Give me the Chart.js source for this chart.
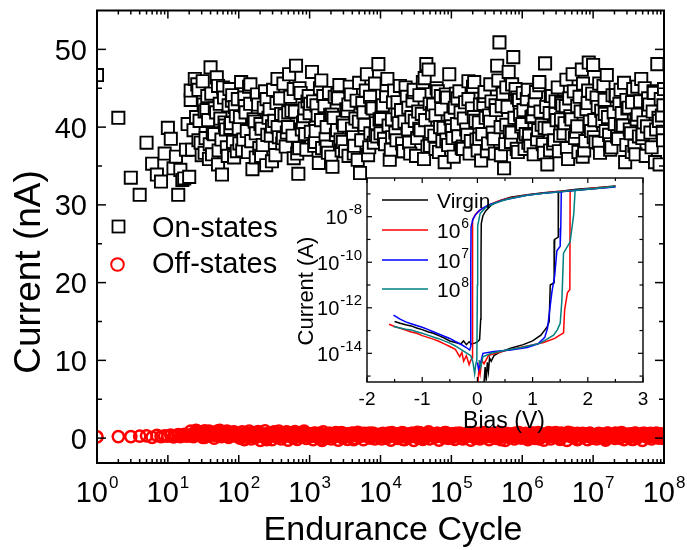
<!DOCTYPE html>
<html><head><meta charset="utf-8">
<script src="https://cdn.jsdelivr.net/npm/chart.js@4.4.1/dist/chart.umd.min.js"></script>
<style>html,body{margin:0;padding:0;background:#fff;}#wrap{position:relative;width:687px;height:550px;}canvas{position:absolute;left:0;top:0;}</style>
</head><body><div id="wrap"><canvas id="main" width="687" height="550"></canvas><canvas id="inset" width="687" height="550"></canvas></div>
<script>
// ---------- main chart data (first pass of read-off points) ----------
const cycles = [1,2,3,4,5,6,7,8,9,10,11,12,13,14,15,16,17,18,19,20,
22,24,26,28,30,32,34,36,38,40,43,46,49,52,55,58,62,66,70,74,78,83,88,94,
100,108,116,125,135,145,156,168,181,195,210,226,244,263,283,305,329,354,382,411,443,477,514,554,597,643,693,747,805,867,934,
1000,1080,1160,1250,1350,1450,1560,1680,1810,1950,2100,2260,2440,2630,2830,3050,3290,3540,3820,4110,4430,4770,5140,5540,5970,6430,6930,7470,8050,8670,9340,
10000,10800,11600,12500,13500,14500,15600,16800,18100,19500,21000,22600,24400,26300,28300,30500,32900,35400,38200,41100,44300,47700,51400,55400,59700,64300,69300,74700,80500,86700,93400,
1.0e5,1.08e5,1.16e5,1.25e5,1.35e5,1.45e5,1.56e5,1.68e5,1.81e5,1.95e5,2.1e5,2.26e5,2.44e5,2.63e5,2.83e5,3.05e5,3.29e5,3.54e5,3.82e5,4.11e5,4.43e5,4.77e5,5.14e5,5.54e5,5.97e5,6.43e5,6.93e5,7.47e5,8.05e5,8.67e5,9.34e5,
1.0e6,1.08e6,1.16e6,1.25e6,1.35e6,1.45e6,1.56e6,1.68e6,1.81e6,1.95e6,2.1e6,2.26e6,2.44e6,2.63e6,2.83e6,3.05e6,3.29e6,3.54e6,3.82e6,4.11e6,4.43e6,4.77e6,5.14e6,5.54e6,5.97e6,6.43e6,6.93e6,7.47e6,8.05e6,8.67e6,9.34e6,
1.0e7,1.08e7,1.16e7,1.25e7,1.35e7,1.45e7,1.56e7,1.68e7,1.81e7,1.95e7,2.1e7,2.26e7,2.44e7,2.63e7,2.83e7,3.05e7,3.29e7,3.54e7,3.82e7,4.11e7,4.43e7,4.77e7,5.14e7,5.54e7,5.97e7,6.43e7,6.93e7,7.47e7,8.05e7,8.67e7,9.34e7,
9.6e7,9.8e7,1e8];

const onCurrent = [46.7,41.2,33.5,31.3,38.0,35.3,33.9,33.0,36.6,39.9,38.5,34.7,36.2,31.3,34.5,33.2,33.4,37.1,40.4,33.6,
37.1,46.2,45.5,40.8,36.4,42.9,38.6,44.0,35.9,47.7,39.2,42.4,46.4,37.0,41.1,33.9,43.8,39.7,36.3,44.9,40.5,38.1,42.6,36.9,
39.8,45.8,38.4,41.9,36.8,43.0,34.6,40.7,44.2,37.3,39.8,42.5,35.1,41.2,38.9,44.8,36.4,40.0,43.7,37.9,41.5,39.3,46.8,42.1,36.0,47.9,34.0,44.4,40.6,39.1,43.3,
41.8,47.1,37.6,42.8,35.4,40.9,44.0,38.5,36.7,41.6,34.9,43.9,39.6,45.4,37.0,40.2,42.3,36.3,44.2,38.7,41.1,35.8,34.1,43.1,39.9,46.8,37.4,42.6,38.0,40.5,48.1,
39.2,42.8,37.8,46.2,35.8,41.0,44.7,38.3,40.5,42.2,36.9,45.1,39.7,36.6,43.4,40.8,38.6,44.1,41.7,35.9,48.1,47.4,39.4,42.9,37.2,44.6,40.0,38.2,35.5,43.8,46.8,
40.1,36.2,44.3,38.8,41.9,37.5,43.2,39.0,36.6,42.4,45.8,38.4,40.6,35.7,43.0,41.2,37.9,45.5,39.3,36.6,47.9,50.9,42.7,34.7,40.3,47.1,38.1,49.0,44.9,36.8,41.6,
40.4,37.2,43.6,38.9,41.3,36.5,44.5,39.6,42.0,37.8,48.2,35.2,41.8,44.0,38.3,40.9,36.9,43.1,39.2,42.7,35.9,41.4,46.8,38.6,40.1,43.9,47.4,37.0,42.3,48.3,39.5,
48.0,38.1,42.6,36.7,40.8,43.5,46.7,39.0,37.4,41.9,44.1,38.5,44.8,40.2,35.5,42.4,39.7,43.2,37.6,41.0,38.8,46.2,40.6,36.3,43.7,39.3,42.0,35.5,48.1,35.2,41.5,
39.4,42.8,44.9];

const offCurrent = [0.15,0.2,0.2,0.25,0.3,0.1,0.35,0.2,0.3,0.25,0.4,0.15,0.3,0.45,0.2,0.35,0.5,0.25,0.4,0.3,
0.5,0.7,0.4,0.85,0.6,0.3,0.75,0.5,0.9,0.45,0.65,0.35,0.8,0.55,0.9,0.4,0.7,0.6,0.85,0.3,0.5,0.75,0.45,0.6,
0.4,0.25,0.55,0.3,0.5,0.2,0.45,0.35,0.6,0.25,0.4,0.3,0.55,0.2,0.45,0.7,0.35,0.5,0.3,0.65,0.4,0.8,0.25,0.5,0.35,0.6,0.3,0.45,0.7,0.4,0.55,
0.5,0.3,0.65,0.35,0.55,0.25,0.8,0.4,0.3,0.6,0.45,0.2,0.5,0.35,0.7,0.3,0.55,0.4,0.25,0.6,0.35,0.75,0.45,0.3,0.5,0.4,0.65,0.25,0.55,0.35,0.5,
0.35,0.6,0.3,0.5,0.25,0.7,0.4,0.55,0.3,0.45,0.65,0.2,0.5,0.35,0.6,0.3,0.75,0.4,0.5,0.25,0.55,0.8,0.35,0.45,0.3,0.6,0.4,0.5,0.7,0.3,0.55,
0.45,0.3,0.6,0.35,0.5,0.25,0.55,0.4,0.7,0.3,0.45,0.6,0.2,0.5,0.35,0.65,0.4,0.3,0.55,0.25,0.5,0.75,0.35,0.45,0.6,0.3,0.5,0.4,0.65,0.35,0.45,
0.3,0.55,0.4,0.25,0.6,0.35,0.5,0.7,0.3,0.45,0.4,0.55,0.25,0.6,0.35,0.5,0.3,0.65,0.4,0.45,0.75,0.3,0.5,0.35,0.6,0.4,0.25,0.55,0.45,0.35,0.5,
0.4,0.3,0.55,0.35,0.5,0.25,0.6,0.4,0.45,0.3,0.55,0.35,0.65,0.4,0.3,0.5,0.45,0.25,0.6,0.35,0.5,0.4,0.55,0.3,0.45,0.6,0.35,0.5,0.4,0.3,0.45,
0.4,0.35,0.3];

// ---------- second pass of read-off points ----------
const cycles2 = [21,23,25,27,29,31,33,35,37,39,41,45,48,51,54,57,60,64,68,72,76,81,86,91,97,
104,112,120,130,140,150,162,174,188,202,218,235,253,273,294,317,341,368,396,427,460,495,534,575,620,668,720,776,836,900,970,
1040,1120,1200,1300,1400,1500,1620,1740,1880,2020,2180,2350,2530,2730,2940,3170,3410,3680,3960,4270,4600,4950,5340,5750,6200,6680,7200,7760,8360,9000,9700,
10400,11200,12000,13000,14000,15000,16200,17400,18800,20200,21800,23500,25300,27300,29400,31700,34100,36800,39600,42700,46000,49500,53400,57500,62000,66800,72000,77600,83600,90000,97000,
1.04e5,1.12e5,1.2e5,1.3e5,1.4e5,1.5e5,1.62e5,1.74e5,1.88e5,2.02e5,2.18e5,2.35e5,2.53e5,2.73e5,2.94e5,3.17e5,3.41e5,3.68e5,3.96e5,4.27e5,4.6e5,4.95e5,5.34e5,5.75e5,6.2e5,6.68e5,7.2e5,7.76e5,8.36e5,9.0e5,9.7e5,
1.04e6,1.12e6,1.2e6,1.3e6,1.4e6,1.5e6,1.62e6,1.74e6,1.88e6,2.02e6,2.18e6,2.35e6,2.53e6,2.73e6,2.94e6,3.17e6,3.41e6,3.68e6,3.96e6,4.27e6,4.6e6,4.95e6,5.34e6,5.75e6,6.2e6,6.68e6,7.2e6,7.76e6,8.36e6,9.0e6,9.7e6,
1.04e7,1.12e7,1.2e7,1.3e7,1.4e7,1.5e7,1.62e7,1.74e7,1.88e7,2.02e7,2.18e7,2.35e7,2.53e7,2.73e7,2.94e7,3.17e7,3.41e7,3.68e7,3.96e7,4.27e7,4.6e7,4.95e7,5.34e7,5.75e7,6.2e7,6.68e7,7.2e7,7.76e7,8.36e7,9.0e7,9.7e7];

const onCurrent2 = [43.5,39.6,41.3,44.8,38.0,45.9,36.7,42.2,40.9,37.8,44.3,39.1,41.9,35.2,43.0,38.4,45.1,40.2,37.4,42.8,39.9,44.1,36.1,41.4,43.6,
41.3,37.0,43.8,39.5,45.2,38.2,41.0,36.1,42.9,40.4,37.7,44.6,39.0,42.3,35.6,40.8,43.1,38.7,41.7,45.6,37.5,40.0,43.9,38.9,42.0,36.6,45.0,39.7,41.4,37.1,44.0,
39.4,43.3,38.1,41.5,45.0,37.3,42.7,40.0,44.4,36.2,41.2,39.0,43.7,38.4,40.6,36.9,42.1,45.2,39.8,37.6,43.4,40.7,38.3,41.9,44.7,36.4,39.2,42.4,45.6,38.8,41.0,
42.6,38.5,44.0,40.2,37.1,43.2,39.3,41.6,45.3,37.9,40.7,43.9,38.0,41.3,44.5,36.3,42.0,39.6,45.8,40.9,37.5,43.0,41.8,38.9,45.0,36.8,42.3,39.9,44.2,37.7,41.1,
38.6,42.5,40.4,44.6,37.3,41.1,39.7,43.6,38.2,45.2,40.8,37.0,42.9,39.1,44.0,36.9,41.5,43.3,38.5,42.2,46.0,40.0,44.3,37.8,42.6,39.4,45.5,41.2,37.2,43.5,40.1,
42.2,39.1,44.8,37.6,41.4,43.4,38.4,45.4,40.3,36.7,42.6,39.8,44.0,37.9,41.7,45.1,38.9,42.8,40.5,37.3,43.7,41.0,44.6,39.4,36.8,42.0,45.6,38.2,43.1,40.7,44.3,
40.9,43.8,38.0,42.1,45.3,39.5,41.3,37.1,44.1,40.4,38.8,43.0,41.8,45.7,37.7,42.5,39.2,44.9,36.5,41.6,43.3,38.6,45.0,40.1,42.9,37.4,44.4,39.7,41.2,43.6,38.3];

const offCurrent2 = [0.9,0.2,1.0,0.4,0.7,0.1,0.95,0.5,0.3,0.85,0.6,0.0,0.8,0.45,1.0,0.2,0.7,0.55,0.9,0.1,0.65,0.35,0.8,0.25,0.6,
0.0,0.8,-0.2,0.6,0.9,-0.1,0.7,0.1,0.85,-0.3,0.5,0.95,0.0,0.65,-0.2,0.8,0.2,0.9,-0.1,0.55,0.75,-0.25,0.6,0.05,0.85,-0.15,0.7,0.15,0.9,-0.05,0.5,
0.55,-0.2,0.4,0.1,0.65,-0.3,0.5,0.0,0.6,-0.1,0.35,0.7,-0.25,0.45,0.1,0.55,-0.15,0.4,0.65,-0.05,0.5,0.2,0.6,-0.2,0.3,0.5,0.0,0.65,-0.1,0.4,0.15,
-0.1,0.5,0.05,0.65,-0.25,0.4,0.55,-0.05,0.35,0.7,-0.2,0.45,0.1,0.6,-0.3,0.5,0.0,0.65,-0.15,0.3,0.55,-0.1,0.4,0.2,0.6,-0.25,0.5,0.05,0.7,-0.05,0.4,
0.55,-0.15,0.4,0.65,-0.05,0.3,0.2,0.6,-0.25,0.45,0.0,0.55,-0.1,0.7,0.1,0.35,-0.2,0.5,0.6,-0.05,0.4,0.15,0.65,-0.3,0.5,0.05,0.55,-0.1,0.3,0.7,0.0,
0.1,0.6,-0.2,0.4,0.65,-0.05,0.5,0.0,0.55,-0.25,0.35,0.7,-0.1,0.45,0.2,0.6,-0.15,0.4,0.55,-0.3,0.3,0.65,0.05,0.5,-0.1,0.55,0.15,0.4,-0.2,0.65,0.0,
0.4,-0.1,0.6,0.05,0.5,-0.25,0.65,0.2,0.35,-0.05,0.55,0.0,0.7,-0.2,0.45,0.1,0.55,-0.15,0.65,0.05,0.4,-0.3,0.6,0.15,0.5,-0.1,0.3,0.65,0.0,0.55,-0.05];

// ---------- third pass of read-off points ----------
const cycles3 = [21,27,33,42,51,63,80,
102,122,146,174,207,247,295,352,420,500,597,712,850,
1020,1220,1460,1740,2070,2470,2950,3520,4200,5000,5970,7120,8500,
10200,12200,14600,17400,20700,24700,29500,35200,42000,50000,59700,71200,85000,
1.02e5,1.22e5,1.46e5,1.74e5,2.07e5,2.47e5,2.95e5,3.52e5,4.2e5,5.0e5,5.97e5,7.12e5,8.5e5,
1.02e6,1.22e6,1.46e6,1.74e6,2.07e6,2.47e6,2.95e6,3.52e6,4.2e6,5.0e6,5.97e6,7.12e6,8.5e6,
1.02e7,1.22e7,1.46e7,1.74e7,2.07e7,2.47e7,2.95e7,3.52e7,4.2e7,5.0e7,5.97e7,7.12e7,8.5e7];
const onCurrent3 = [44.7,38.3,42.0,36.5,45.3,40.6,43.4,
37.9,42.7,45.5,39.2,36.3,43.6,40.1,46.2,38.6,41.9,44.9,37.3,42.4,
43.0,39.5,46.0,37.5,41.6,44.2,38.1,42.9,36.6,45.7,40.3,43.9,39.0,
41.1,45.4,38.7,43.2,36.9,42.5,44.8,39.8,46.3,37.6,41.5,44.0,38.4,
39.6,43.7,37.2,45.9,41.3,38.5,44.5,40.7,42.8,36.4,45.1,39.3,43.8,
44.4,38.0,42.3,45.8,39.9,37.0,43.3,41.0,46.1,38.9,42.7,36.2,44.7,
38.7,45.6,41.7,37.8,44.0,40.2,43.5,36.8,45.2,39.1,42.2,44.6,40.8];
const offCurrent3 = [0.3,0.8,0.1,0.6,0.95,0.4,0.7,
0.3,-0.1,0.6,0.2,0.5,-0.2,0.7,0.1,0.4,0.65,0.0,0.5,0.25,
0.2,0.6,-0.1,0.45,0.3,0.65,0.0,0.5,-0.2,0.4,0.6,0.1,0.35,
0.45,0.0,0.6,0.25,-0.15,0.5,0.3,0.7,-0.05,0.4,0.15,0.55,0.2,
0.1,0.5,-0.1,0.6,0.3,0.0,0.65,0.2,0.45,-0.2,0.55,0.35,0.15,
0.35,0.05,0.6,-0.1,0.45,0.25,0.7,0.0,0.5,0.15,-0.2,0.6,0.3,
0.2,0.55,-0.05,0.4,0.65,0.1,0.5,-0.15,0.3,0.6,0.05,0.45,0.25];

const yTickValues = [0,10,20,30,40,50];
const xTickExponents = [0,1,2,3,4,5,6,7,8];
const legendLabels = ['On-states','Off-states'];

// ---------- inset data (I-V curves) ----------
const insetLabels = ['Virgin','6','7','8']; // "Virgin", 10^6, 10^7, 10^8
const virginV = [-1.5,-1.4,-1.3,-1.2,-1.1,-1.0,-0.9,-0.8,-0.7,-0.6,-0.5,-0.4,-0.3,-0.25,-0.2,-0.15,-0.1,-0.05,0.0,0.04,0.06,0.065,0.07,0.1,0.15,0.25,0.4,0.6,0.9,1.2,1.5,1.8,2.1,2.5,2.1,1.8,1.47,1.465,1.4,1.39,1.32,1.3,1.26,1.15,1.0,0.83,0.6,0.4,0.3,0.25,0.22,0.2,0.18,0.16,0.14,0.12];
const virginI = [2.5e-13,2.1e-13,1.8e-13,1.6e-13,1.3e-13,1.1e-13,8.9e-14,7.6e-14,6.0e-14,4.7e-14,3.5e-14,3.0e-14,2.6e-14,3.5e-14,2.4e-14,3.2e-14,2.5e-14,2.8e-14,3.2e-14,4.0e-14,3.2e-13,1e-10,5e-9,1.1e-8,1.8e-8,3.2e-8,5e-8,7.1e-8,9.3e-8,1.12e-7,1.3e-7,1.6e-7,1.8e-7,2.2e-7,1.78e-7,1.5e-7,1.26e-7,1.26e-9,1e-9,1.26e-11,1e-11,2.5e-13,1.4e-13,6.3e-14,3.5e-14,2.4e-14,1.66e-14,1.1e-14,7.9e-15,4.5e-15,6.3e-15,1.6e-15,4e-15,6.3e-16,2.5e-15,5e-16];
const c6V = [-1.6,-1.5,-1.4,-1.3,-1.2,-1.1,-1.0,-0.9,-0.8,-0.7,-0.6,-0.5,-0.4,-0.32,-0.28,-0.25,-0.2,-0.15,-0.12,-0.09,-0.09,-0.085,-0.05,0.0,0.1,0.2,0.35,0.55,0.9,1.2,1.5,1.8,2.1,2.5,2.1,1.68,1.675,1.63,1.58,1.56,1.4,1.2,0.95,0.7,0.5,0.3,0.2,0.12,0.08,0.05,0.03,0.01];
const c6I = [1.9e-13,1.5e-13,1.26e-13,1.05e-13,8.7e-14,7.6e-14,6e-14,5e-14,4.2e-14,3.4e-14,2.6e-14,2e-14,1.5e-14,7.1e-15,1.1e-14,4.5e-15,7.9e-15,3.2e-15,5e-15,6.3e-15,1e-12,7.1e-9,1.1e-8,1.6e-8,2.4e-8,3.2e-8,4.5e-8,6.3e-8,8.9e-8,1.1e-7,1.3e-7,1.5e-7,1.8e-7,2.1e-7,1.7e-7,1.4e-7,6.3e-12,4.5e-12,7.9e-13,7.9e-14,4.5e-14,3e-14,2.2e-14,1.66e-14,1.3e-14,9.5e-15,7.9e-15,3.5e-15,5e-15,1.26e-15,2.5e-15,5e-16];
const c7V = [-1.52,-1.4,-1.3,-1.2,-1.1,-1.0,-0.9,-0.8,-0.7,-0.6,-0.5,-0.4,-0.3,-0.2,-0.14,-0.12,-0.12,-0.115,-0.08,-0.03,0.05,0.2,0.5,0.9,1.2,1.52,1.8,2.1,2.5,2.1,1.52,1.51,1.5,1.44,1.4,1.35,1.32,1.27,1.22,1.1,0.9,0.6,0.3,0.1,0.06,0.02,0.0];
const c7I = [4.8e-13,3.2e-13,2.4e-13,2e-13,1.66e-13,1.4e-13,1.12e-13,8.9e-14,7.1e-14,5.6e-14,4.5e-14,3.3e-14,2.5e-14,1.8e-14,1.4e-14,2e-14,1e-10,3.6e-9,7.9e-9,1.26e-8,2e-8,3.3e-8,5.6e-8,8.7e-8,1.07e-7,1.26e-7,1.48e-7,1.7e-7,2e-7,1.7e-7,1.26e-7,3.2e-9,5e-10,3.2e-10,2.5e-11,5e-12,1.26e-12,1.26e-13,5e-14,2.6e-14,1.8e-14,1.4e-14,1.2e-14,1e-14,4e-15,2e-15,4e-15];
const c8V = [-1.52,-1.4,-1.3,-1.2,-1.1,-1.0,-0.9,-0.8,-0.7,-0.6,-0.5,-0.4,-0.3,-0.2,-0.12,-0.08,-0.05,-0.03,-0.01,0.0,0.005,0.05,0.15,0.3,0.55,0.9,1.2,1.5,1.77,2.1,2.5,2.1,1.77,1.745,1.68,1.56,1.53,1.5,1.45,1.38,1.14,0.8,0.53,0.25,0.1,0.06,0.03];
const c8I = [1.5e-13,1.3e-13,1.15e-13,1.05e-13,8.9e-14,7.6e-14,6.3e-14,5.2e-14,4.4e-14,3.5e-14,2.8e-14,2.1e-14,1.5e-14,1.05e-14,7.9e-15,4e-15,1.26e-15,3.2e-15,5e-15,1e-11,4e-9,1.4e-8,2.5e-8,3.8e-8,6e-8,8.7e-8,1.07e-7,1.26e-7,1.45e-7,1.74e-7,2.1e-7,1.7e-7,1.4e-7,1.26e-8,7.9e-10,2.5e-10,2e-12,2.1e-13,1.1e-13,6.3e-14,2.8e-14,1.8e-14,1.4e-14,1e-14,7.1e-15,2.5e-15,5e-15];
const insetXTicks = [-2,-1,0,1,2,3];
const insetYTickExp = [-14,-12,-10,-8];

// ---------- helpers ----------
const F = '"Liberation Sans", Arial, Helvetica, sans-serif';
function seg(ctx,x1,y1,x2,y2){ctx.beginPath();ctx.moveTo(x1,y1);ctx.lineTo(x2,y2);ctx.stroke();}
function powLabel(ctx, exp, x, baseline, bs, ss, rise, align){
  ctx.font = bs+'px '+F; const w1 = ctx.measureText('10').width;
  ctx.font = ss+'px '+F; const w2 = ctx.measureText(exp).width;
  const tot = w1 + 1 + w2;
  const x0 = align==='center' ? x - tot/2 : (align==='right' ? x - tot : x);
  ctx.textAlign='left'; ctx.textBaseline='alphabetic';
  ctx.font = bs+'px '+F; ctx.fillText('10', x0, baseline);
  ctx.font = ss+'px '+F; ctx.fillText(exp, x0 + w1 + 1, baseline - rise);
}

// ---------- main chart decorations ----------
const mainDecor = {
  id:'mainDecor',
  afterDraw(chart){
    const ctx = chart.ctx, a = chart.chartArea, x = chart.scales.x, y = chart.scales.y;
    ctx.save();
    ctx.strokeStyle='#000'; ctx.fillStyle='#000';
    ctx.lineWidth = 1.5;
    yTickValues.forEach(v=>{const p=y.getPixelForValue(v); seg(ctx,a.left,p,a.left+9,p); seg(ctx,a.right,p,a.right-9,p);});
    yTickValues.forEach(v=>{const vv=v+5; if(vv<55){const p=y.getPixelForValue(vv); seg(ctx,a.left,p,a.left+5,p); seg(ctx,a.right,p,a.right-5,p);}});
    xTickExponents.forEach(e=>{
      const p=x.getPixelForValue(Math.pow(10,e));
      seg(ctx,p,a.bottom,p,a.bottom-8); seg(ctx,p,a.top,p,a.top+8);
      if(e<8){ for(let m=2;m<=9;m++){const q=x.getPixelForValue(m*Math.pow(10,e)); seg(ctx,q,a.bottom,q,a.bottom-4); seg(ctx,q,a.top,q,a.top+4);} }
    });
    ctx.lineWidth = 2;
    ctx.strokeRect(a.left, a.top, a.right-a.left, a.bottom-a.top);
    ctx.font = '29px '+F; ctx.textAlign='right'; ctx.textBaseline='alphabetic';
    yTickValues.forEach(v=>{const p=y.getPixelForValue(v); ctx.fillText(String(v), a.left-10, p+10.5);});
    xTickExponents.forEach(e=>{const p=x.getPixelForValue(Math.pow(10,e)); powLabel(ctx, String(e), p, 502, 29, 17, 14, 'center');});
    ctx.font = '34px '+F; ctx.textAlign='center'; ctx.textBaseline='alphabetic';
    ctx.fillText('Endurance Cycle', 393, 540);
    ctx.save(); ctx.translate(40, 272); ctx.rotate(-Math.PI/2);
    ctx.font = '37px '+F; ctx.textAlign='center'; ctx.fillText('Current (nA)', 0, 0);
    ctx.restore();
    ctx.lineWidth = 1.8; ctx.strokeStyle='#000'; ctx.fillStyle='#fff';
    ctx.fillRect(112.5,220.5,12,12); ctx.strokeRect(112.5,220.5,12,12);
    ctx.strokeStyle='#ff0000'; ctx.lineWidth=2;
    ctx.beginPath(); ctx.arc(117.5,264.5,6.3,0,Math.PI*2); ctx.fill(); ctx.stroke();
    ctx.fillStyle='#000'; ctx.font='29px '+F; ctx.textAlign='left';
    ctx.fillText(legendLabels[0], 152, 237);
    ctx.fillText(legendLabels[1], 152, 273);
    ctx.restore();
  }
};

// combine the read-off passes and draw them in order of cycle number
const allCycles = cycles.concat(cycles2, cycles3);
const allOn = onCurrent.concat(onCurrent2, onCurrent3);
const allOff = offCurrent.concat(offCurrent2, offCurrent3);
const order = allCycles.map((c,i)=>i).sort((a,b)=>allCycles[a]-allCycles[b]);

new Chart(document.getElementById('main'), {
  type:'scatter',
  data:{datasets:[
    {label:legendLabels[1], data: order.map(i=>({x:allCycles[i],y:allOff[i]})), pointStyle:'circle', pointRadius:5.6, borderColor:'#ff0000', backgroundColor:'rgba(255,255,255,0)', borderWidth:2.5, clip:0},
    {label:legendLabels[0], data: order.map(i=>({x:allCycles[i],y:allOn[i]})), pointStyle:'rect', pointRadius:8.6, borderColor:'#000000', backgroundColor:'#ffffff', borderWidth:1.9, clip:0}
  ]},
  options:{responsive:false, animation:false, devicePixelRatio:1, events:[],
    layout:{padding:{left:97,right:23,top:7,bottom:87}},
    plugins:{legend:{display:false}, tooltip:{enabled:false}},
    scales:{x:{type:'logarithmic', min:1, max:1e8, display:false}, y:{type:'linear', min:-3.2, max:55, display:false}}
  },
  plugins:[mainDecor]
});

// ---------- inset ----------
const insetColors = ['#000000','#ff0000','#0000ff','#008080'];
const insetDecor = {
  id:'insetDecor',
  beforeDatasetsDraw(chart){
    const ctx=chart.ctx, a=chart.chartArea;
    ctx.save(); ctx.fillStyle='#fff'; ctx.fillRect(a.left,a.top,a.right-a.left,a.bottom-a.top); ctx.restore();
  },
  afterDraw(chart){
    const ctx=chart.ctx, a=chart.chartArea, x=chart.scales.x, y=chart.scales.y;
    ctx.save(); ctx.strokeStyle='#000'; ctx.fillStyle='#000';
    ctx.lineWidth=1.2;
    for(let v=-2; v<=3.001; v+=0.5){
      const p=x.getPixelForValue(v); const L = (Math.abs(v-Math.round(v))<1e-6)?5:3;
      seg(ctx,p,a.bottom,p,a.bottom-L); seg(ctx,p,a.top,p,a.top+L);
    }
    for(let e=-15; e<=-7; e++){
      const p=y.getPixelForValue(Math.pow(10,e)); const L = (e%2===0)?5:3.5;
      seg(ctx,a.left,p,a.left+L,p); seg(ctx,a.right,p,a.right-L,p);
    }
    ctx.lineWidth=1.4;
    ctx.strokeRect(a.left,a.top,a.right-a.left,a.bottom-a.top);
    ctx.font='19px '+F; ctx.textAlign='center'; ctx.textBaseline='alphabetic';
    insetXTicks.forEach(v=>{ctx.fillText(String(v), x.getPixelForValue(v), 405);});
    insetYTickExp.forEach(e=>{const p=y.getPixelForValue(Math.pow(10,e)); powLabel(ctx, String(e), 362, p+7.5, 20, 15, 10, 'right');});
    ctx.font='23px '+F; ctx.textAlign='center'; ctx.fillText('Bias (V)', 504, 428);
    ctx.save(); ctx.translate(313, 291); ctx.rotate(-Math.PI/2);
    ctx.font='22px '+F; ctx.textAlign='center'; ctx.fillText('Current (A)', 0, 0); ctx.restore();
    const rows=[200,230,260,289];
    rows.forEach((ry,i)=>{
      ctx.strokeStyle=insetColors[i]; ctx.lineWidth=1.6; seg(ctx,382,ry,428,ry);
      ctx.fillStyle='#000';
      if(i===0){ ctx.font='21px '+F; ctx.textAlign='left'; ctx.fillText(insetLabels[0], 437, ry+7.5); }
      else powLabel(ctx, insetLabels[i], 437, ry+8, 21, 14, 10, 'left');
    });
    ctx.restore();
  }
};
function pts(V,I){return V.map((v,i)=>({x:v,y:I[i]}));}
new Chart(document.getElementById('inset'), {
  type:'scatter',
  data:{datasets:[
    {label:'Virgin', data:pts(virginV,virginI), borderColor:insetColors[0]},
    {label:'10^6', data:pts(c6V,c6I), borderColor:insetColors[1]},
    {label:'10^7', data:pts(c7V,c7I), borderColor:insetColors[2]},
    {label:'10^8', data:pts(c8V,c8I), borderColor:insetColors[3]}
  ].map(d=>Object.assign(d,{showLine:true, pointRadius:0, borderWidth:1.5, tension:0, clip:0, backgroundColor:d.borderColor})).reverse()},
  options:{responsive:false, animation:false, devicePixelRatio:1, events:[],
    layout:{padding:{left:367,right:44,top:178,bottom:168}},
    plugins:{legend:{display:false}, tooltip:{enabled:false}},
    scales:{x:{type:'linear', min:-2, max:3, display:false}, y:{type:'logarithmic', min:5.5e-16, max:5.0e-7, display:false}}
  },
  plugins:[insetDecor]
});
</script></body></html>
